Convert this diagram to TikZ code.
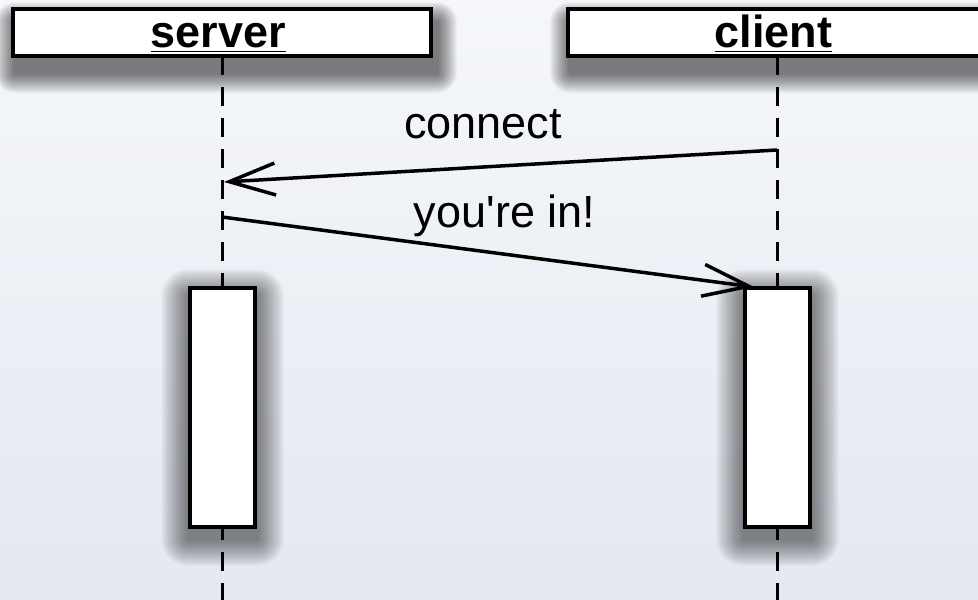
\documentclass[tikz,border=0pt]{standalone}
\usepackage{fontspec}
\setmainfont{Liberation Sans}
\usetikzlibrary{arrows.meta}
\definecolor{bgtop}{RGB}{245,247,250}
\definecolor{bgbot}{RGB}{228,232,240}
\pgfdeclarelayer{bg}
\pgfdeclarelayer{shadow}
\pgfsetlayers{bg,shadow,main}
\def\lifeline{\draw[dash pattern=on 19pt off 12pt,line width=3pt]}
\def\msg{\draw[line width=3.5pt,-{Straight Barb[length=46pt,width=32pt]}]}
\def\bigtext{\fontsize{45}{54}\selectfont}
% soft shadow under a node: #1 node, #2 x shift, #3 y shift, #4 last radius, #5 opacity of one step
\def\softshadow#1#2#3#4#5{%
  \begin{pgfonlayer}{shadow}
    \foreach \r in {1,...,#4}
      \fill[black,opacity=#5,rounded corners=\r pt]
        ([shift={(#2-\r,#3-\r)}]#1.north west) rectangle ([shift={(#2+\r,#3+\r)}]#1.south east);
  \end{pgfonlayer}}

\begin{document}
\begin{tikzpicture}[x=1pt,y=-1pt,line width=3.5pt,
    headbox/.style={draw,line width=4pt,fill=white,minimum width=418pt,minimum height=47pt,inner sep=0pt},
    headname/.style={inner sep=0pt,anchor=base,font=\bigtext\bfseries},
    actbox/.style={draw,line width=4pt,fill=white,minimum width=65pt,minimum height=239pt,inner sep=0pt},
    msgtext/.style={inner sep=0pt,anchor=base,font=\bigtext}]
  % background
  \begin{pgfonlayer}{bg}
    \shade[top color=bgtop,bottom color=bgbot] (0,0) rectangle (978,600);
  \end{pgfonlayer}
  \useasboundingbox (0,0) rectangle (978,600);

  % lifelines
  \coordinate (serverend) at (222,600);
  \coordinate (clientend) at (777,600);
  \lifeline (222,56) -- (serverend);
  \lifeline (777,56) -- (clientend);

  % heads
  \node[headbox] (server) at (222,32.5) {};
  \node[headbox] (client) at (777,32.5) {};
  \softshadow{server}{4}{15}{20}{0.03}
  \softshadow{client}{4}{15}{20}{0.03}
  \node[headname] (servername) at (218.5,47) {server};
  \node[headname] (clientname) at (773.5,47) {client};
  \draw ([yshift=-4pt]servername.base west) -- ([yshift=-4pt]servername.base east);
  \draw ([yshift=-4pt]clientname.base west) -- ([yshift=-4pt]clientname.base east);

  % activations
  \node[actbox] (serveract) at (222.5,407.5) {};
  \node[actbox] (clientact) at (777.5,407.5) {};
  \softshadow{serveract}{0}{10}{27}{0.018}
  \softshadow{clientact}{0}{10}{27}{0.018}

  % messages
  \coordinate (connectfrom) at (777,150);
  \coordinate (connectto) at (224,182);
  \coordinate (inform) at (222,217);
  \coordinate (into) at (754,287);
  \msg (connectfrom) -- (connectto);
  \msg (inform) -- (into);
  \node[msgtext] (connect) at (483,138) {connect};
  \node[msgtext] (youin) at (504.5,227) {you\textquotesingle re in!};
\end{tikzpicture}
\end{document}
